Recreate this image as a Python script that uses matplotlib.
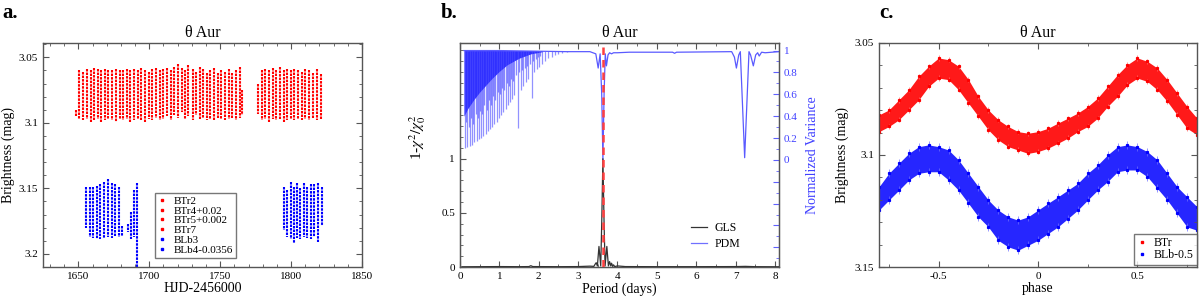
import numpy as np
import matplotlib
matplotlib.use('Agg')
import matplotlib.pyplot as plt
from matplotlib.ticker import MultipleLocator, FixedLocator, FuncFormatter
from matplotlib.lines import Line2D

plt.rcParams['font.family'] = ['Liberation Serif', 'DejaVu Serif']
plt.rcParams['mathtext.fontset'] = 'stix'
plt.rcParams['axes.unicode_minus'] = False

# ---- panel a: light curves (nightly stripes, HJD-2456000 vs mag range) ----
red_t = [1648.6, 1650.7, 1653.3, 1656.2, 1658.6, 1660.9, 1663.8, 1666.2, 1668.8, 1671.2,
         1674.0, 1676.4, 1679.0, 1681.7, 1684.3, 1686.7, 1689.5, 1691.9, 1694.5, 1697.1,
         1699.5, 1702.1, 1705.0, 1707.4, 1709.8, 1712.4, 1715.0, 1717.6, 1720.0, 1722.9,
         1725.2, 1727.6, 1730.5, 1732.9, 1735.5, 1737.9, 1740.7, 1743.1, 1745.7, 1748.3,
         1750.9, 1753.3, 1756.2, 1758.6, 1760.9, 1763.8, 1765.7,
         1776.9, 1779.3, 1781.9, 1784.3, 1787.1, 1789.5, 1791.9, 1794.8, 1797.1, 1799.8,
         1802.4, 1804.8, 1807.6, 1810.0, 1812.9, 1815.2, 1818.1, 1820.9]
red_top = [3.090, 3.060, 3.061, 3.059, 3.060, 3.058, 3.059, 3.060, 3.059, 3.060,
           3.060, 3.059, 3.060, 3.060, 3.059, 3.060, 3.059, 3.060, 3.058, 3.060,
           3.061, 3.059, 3.058, 3.060, 3.059, 3.058, 3.060, 3.057, 3.055, 3.058,
           3.060, 3.056, 3.059, 3.061, 3.057, 3.059, 3.062, 3.060, 3.058, 3.062,
           3.060, 3.061, 3.059, 3.062, 3.060, 3.057, 3.075,
           3.070, 3.060, 3.059, 3.060, 3.058, 3.060, 3.057, 3.060, 3.059, 3.060,
           3.059, 3.060, 3.061, 3.059, 3.060, 3.062, 3.059, 3.063]
red_bot = [3.095, 3.097, 3.098, 3.097, 3.099, 3.098, 3.097, 3.099, 3.098, 3.097,
           3.098, 3.099, 3.097, 3.098, 3.097, 3.099, 3.098, 3.097, 3.098, 3.099,
           3.097, 3.098, 3.096, 3.098, 3.097, 3.095, 3.098, 3.094, 3.096, 3.092,
           3.097, 3.095, 3.098, 3.094, 3.097, 3.096, 3.098, 3.097, 3.098, 3.096,
           3.097, 3.098, 3.097, 3.096, 3.098, 3.096, 3.094,
           3.093, 3.098, 3.097, 3.099, 3.097, 3.098, 3.097, 3.099, 3.098, 3.097,
           3.098, 3.097, 3.098, 3.097, 3.098, 3.097, 3.098, 3.097]

blue_t = [1655.7, 1658.1, 1660.5, 1662.9, 1665.2, 1668.1, 1671.0, 1673.4, 1675.9, 1678.8,
          1680.7, 1684.8, 1687.1, 1689.1, 1691.4,
          1794.8, 1797.1, 1799.8, 1802.1, 1804.5, 1806.6, 1809.1, 1811.6, 1814.1, 1816.4,
          1819.3, 1821.6]
blue_top = [3.149, 3.149, 3.149, 3.148, 3.147, 3.145, 3.143, 3.146, 3.147, 3.149,
            3.179, 3.177, 3.168, 3.151, 3.146,
            3.149, 3.151, 3.145, 3.149, 3.146, 3.150, 3.146, 3.149, 3.147, 3.147,
            3.146, 3.149]
blue_bot = [3.180, 3.187, 3.188, 3.189, 3.189, 3.188, 3.187, 3.188, 3.186, 3.187,
            3.186, 3.183, 3.189, 3.187, 3.210,
            3.182, 3.187, 3.189, 3.192, 3.188, 3.189, 3.187, 3.188, 3.189, 3.187,
            3.191, 3.179]

legend_a = ['BTr2', 'BTr4+0.02', 'BTr5+0.002', 'BTr7', 'BLb3', 'BLb4-0.0356']
legend_a_colors = ['red', 'red', 'red', 'red', 'blue', 'blue']

# ---- panel b: periodograms ----
gls_p = [0.05, 0.5, 1.0, 1.5, 1.75, 1.8, 1.85, 2.5, 3.0, 3.3, 3.4, 3.44, 3.46, 3.49,
         3.53, 3.575, 3.6, 3.63, 3.66, 3.685, 3.73, 3.77, 3.8, 3.83, 3.85, 3.88, 3.9,
         3.93, 4.0, 4.2, 5.0, 6.0, 7.0, 7.25, 7.5, 8.1]
gls_v = [0.002, 0.003, 0.004, 0.003, 0.004, 0.012, 0.004, 0.003, 0.004, 0.008, 0.006,
         0.03, 0.04, 0.01, 0.19, 0.01, 0.4, 1.0, 0.4, 0.01, 0.19, 0.01, 0.05, 0.01,
         0.035, 0.005, 0.02, 0.004, 0.01, 0.004, 0.003, 0.003, 0.004, 0.006, 0.003, 0.002]

pdm_p = [0.1, 0.5, 1.0, 2.7, 3.0, 3.3, 3.45, 3.51, 3.56, 3.6, 3.63, 3.66, 3.69, 3.72,
         3.76, 3.8, 3.85, 3.9, 4.0, 4.3, 5.4, 5.45, 5.5, 6.9, 6.97, 7.02, 7.08, 7.12,
         7.23, 7.34, 7.38, 7.45, 7.51, 7.56, 7.6, 7.66, 7.75, 8.1]
pdm_v = [1.0, 1.0, 1.0, 0.99, 0.99, 0.99, 0.97, 0.84, 0.97, 0.6, 0.0, 0.6, 0.97, 0.86,
         0.96, 0.98, 0.97, 0.98, 0.98, 0.985, 0.985, 0.975, 0.985, 0.99, 0.94, 0.84,
         0.96, 0.99, 0.02, 0.99, 0.96, 0.86, 0.96, 0.98, 0.95, 0.985, 0.98, 0.99]

# alias dips at short periods
comb_p = [0.127, 0.186, 0.254, 0.313, 0.364, 0.423, 0.482, 0.533, 0.592, 0.651,
          0.702, 0.761, 0.821, 0.871, 0.931, 0.990, 1.041, 1.100, 1.159, 1.210,
          1.269, 1.328, 1.379, 1.464, 1.548, 1.607, 1.667, 1.717, 1.819, 1.887,
          1.946, 2.005, 2.073, 2.157, 2.242, 2.327, 2.411, 2.496, 2.597, 2.707]
comb_v = [0.11, 0.12, 0.13, 0.14, 0.16, 0.17, 0.19, 0.20, 0.22, 0.24,
          0.26, 0.28, 0.30, 0.33, 0.35, 0.38, 0.41, 0.44, 0.47, 0.50,
          0.53, 0.56, 0.59, 0.29, 0.64, 0.68, 0.71, 0.74, 0.57, 0.80,
          0.83, 0.85, 0.88, 0.90, 0.93, 0.94, 0.96, 0.97, 0.98, 0.985]
comb2_p = [0.155, 0.22, 0.285, 0.34, 0.395, 0.455, 0.51, 0.565, 0.62, 0.68,
           0.73, 0.79, 0.85, 0.9, 0.96, 1.015, 1.07, 1.13, 1.185, 1.24,
           1.30, 1.355, 1.42, 1.51, 1.58, 1.64, 1.69, 1.77, 1.86, 1.92, 1.98, 2.04]
comb2_v = [0.35, 0.30, 0.38, 0.33, 0.42, 0.38, 0.45, 0.42, 0.50, 0.46,
           0.55, 0.50, 0.58, 0.55, 0.62, 0.60, 0.66, 0.64, 0.70, 0.68,
           0.74, 0.72, 0.78, 0.80, 0.82, 0.84, 0.86, 0.88, 0.90, 0.92, 0.94, 0.95]
dense_p = [0.1, 0.2, 0.35, 0.5, 0.65, 0.8, 1.0, 1.2, 1.5, 1.8, 2.1]
dense_v = [0.40, 0.47, 0.55, 0.62, 0.68, 0.74, 0.81, 0.87, 0.93, 0.97, 0.99]
best_period = 3.63

# ---- panel c: phased light curve (upper/lower edges of the point cloud) ----
phase = [-0.8, -0.75, -0.7, -0.65, -0.6, -0.55, -0.5, -0.45, -0.4, -0.35, -0.3,
         -0.25, -0.2, -0.15, -0.1, -0.05, 0.0, 0.05, 0.1, 0.15, 0.2, 0.25, 0.3,
         0.35, 0.4, 0.45, 0.5, 0.55, 0.6, 0.65, 0.7, 0.75, 0.8]
btr_hi = [3.0821, 3.0799, 3.0754, 3.0709, 3.0649, 3.0604, 3.0567, 3.0575, 3.0604,
          3.0664, 3.0739, 3.0799, 3.0843, 3.0873, 3.0896, 3.0903, 3.0896, 3.0881,
          3.0858, 3.0836, 3.0813, 3.0784, 3.0746, 3.0694, 3.0642, 3.0597, 3.0567,
          3.0582, 3.0612, 3.0664, 3.0724, 3.0784, 3.0836]
btr_lo = [3.0896, 3.0873, 3.0843, 3.0799, 3.0754, 3.0694, 3.0657, 3.0664, 3.0709,
          3.0769, 3.0828, 3.0888, 3.0933, 3.0963, 3.0978, 3.0993, 3.0985, 3.0970,
          3.0948, 3.0925, 3.0896, 3.0873, 3.0836, 3.0784, 3.0739, 3.0687, 3.0657,
          3.0672, 3.0709, 3.0761, 3.0821, 3.0881, 3.0910]
blb_hi = [3.1142, 3.1082, 3.1037, 3.0993, 3.0963, 3.0955, 3.0963, 3.0978, 3.1022,
          3.1082, 3.1142, 3.1201, 3.1246, 3.1276, 3.1291, 3.1276, 3.1246, 3.1216,
          3.1187, 3.1157, 3.1127, 3.1082, 3.1045, 3.1000, 3.0963, 3.0955, 3.0963,
          3.0985, 3.1022, 3.1082, 3.1142, 3.1187, 3.1231]
blb_lo = [3.1246, 3.1201, 3.1157, 3.1112, 3.1082, 3.1075, 3.1075, 3.1112, 3.1157,
          3.1216, 3.1276, 3.1321, 3.1381, 3.1410, 3.1425, 3.1403, 3.1381, 3.1351,
          3.1321, 3.1284, 3.1246, 3.1201, 3.1157, 3.1119, 3.1075, 3.1067, 3.1067,
          3.1097, 3.1149, 3.1201, 3.1261, 3.1321, 3.1336]

SPINE = '#555555'
TICK_FS = 8
LABEL_FS = 10


def fmt_g(v, pos):
    v = round(v, 4)
    if abs(v) < 1e-9:
        v = 0.0
    return '%g' % v


def fmt_right(v, pos):
    if v < -0.01:
        return ''
    return fmt_g(v, pos)


def style_axes(ax, right=True):
    ax.tick_params(which='both', direction='in', top=True, right=right,
                   labelsize=TICK_FS, color=SPINE)
    ax.tick_params(which='major', length=4, width=0.8)
    ax.tick_params(which='minor', length=2.2, width=0.6)
    for s in ax.spines.values():
        s.set_color(SPINE)
        s.set_linewidth(1)


fig = plt.figure(figsize=(12, 2.98), dpi=100)
bottom, height = 0.104, 0.752
ax_a = fig.add_axes([0.0358, bottom, 0.2658, height])
ax_b = fig.add_axes([0.3833, bottom, 0.2658, height])
ax_c = fig.add_axes([0.7325, bottom, 0.265, height])

# panel a
ax_a.vlines(red_t, red_top, red_bot, color='red', lw=1.5, linestyles=(0, (1.2, 0.5)))
ax_a.vlines(blue_t, blue_top, blue_bot, color='blue', lw=1.5, linestyles=(0, (1.2, 0.5)))
ax_a.set_xlim(1625, 1850)
ax_a.set_ylim(3.21, 3.039)
ax_a.xaxis.set_major_locator(MultipleLocator(50))
ax_a.xaxis.set_minor_locator(MultipleLocator(10))
ax_a.yaxis.set_major_locator(MultipleLocator(0.05))
ax_a.yaxis.set_minor_locator(MultipleLocator(0.01))
ax_a.yaxis.set_major_formatter(FuncFormatter(fmt_g))
style_axes(ax_a)
ax_a.set_xlabel('HJD-2456000', fontsize=LABEL_FS, labelpad=1)
ax_a.set_ylabel('Brightness (mag)', fontsize=LABEL_FS, labelpad=3)
ax_a.set_title('θ Aur', fontsize=11.5, pad=4)
handles = [Line2D([], [], ls='none', marker='s', ms=1.8, color=c) for c in legend_a_colors]
ax_a.legend(handles, legend_a, loc='lower left', bbox_to_anchor=(0.35, 0.04),
            fontsize=8, frameon=True, fancybox=False, edgecolor='#555555',
            handlelength=0.8, handletextpad=0.6, labelspacing=0.0, borderpad=0.3,
            borderaxespad=0)

# panel b
ax_b2 = ax_b.twinx()
ax_b2.fill_between(dense_p, dense_v, 1.0, color='#1010ff', alpha=0.85, lw=0)
ax_b2.vlines(comb2_p, comb2_v, 1.0, color='#2a2aff', lw=0.9, alpha=0.55)
ax_b2.vlines(comb_p, comb_v, 1.0, color='#4a4aff', lw=0.9, alpha=0.6)
ax_b2.plot(pdm_p, pdm_v, color='#5a5aff', lw=0.9)
ax_b.plot(gls_p, gls_v, color='#333333', lw=0.9, zorder=3)
ax_b.axvline(best_period, color='#ff4040', lw=1.8, ls=(0, (3, 2)), zorder=4)
ax_b.set_zorder(ax_b2.get_zorder() + 1)
ax_b.patch.set_visible(False)

ax_b.set_xlim(0, 8.1)
ax_b.set_ylim(0, 2.07)
ax_b.xaxis.set_major_locator(MultipleLocator(1))
ax_b.xaxis.set_minor_locator(MultipleLocator(0.5))
ax_b.yaxis.set_major_locator(FixedLocator([0, 0.5, 1]))
ax_b.yaxis.set_minor_locator(FixedLocator(np.arange(0.1, 2.05, 0.1)))
ax_b.yaxis.set_major_formatter(FuncFormatter(fmt_g))
style_axes(ax_b, right=False)
ax_b.set_xlabel('Period (days)', fontsize=LABEL_FS, labelpad=1)
ax_b.set_ylabel(r'1-$\chi^2/\chi_0^2$', fontsize=LABEL_FS + 1, labelpad=2)
ax_b.yaxis.set_label_coords(-0.1, 0.58)
ax_b.set_title('θ Aur', fontsize=11.5, pad=4)

ax_b2.set_ylim(-0.98, 1.07)
ax_b2.yaxis.set_major_locator(FixedLocator(np.arange(-0.8, 1.01, 0.2)))
ax_b2.yaxis.set_minor_locator(MultipleLocator(0.1))
ax_b2.yaxis.set_major_formatter(FuncFormatter(fmt_right))
ax_b2.tick_params(which='both', direction='in', labelsize=TICK_FS, color='#6060ff',
                  labelcolor='#4040ff')
ax_b2.tick_params(which='major', length=4, width=0.8)
ax_b2.tick_params(which='minor', length=2.2, width=0.6)
for s in ax_b2.spines.values():
    s.set_color(SPINE)
ax_b2.set_ylabel('Normalized Variance', fontsize=LABEL_FS, color='#4040ff', labelpad=6)

gls_h = Line2D([], [], color='#333333', lw=0.9)
pdm_h = Line2D([], [], color='#7070ff', lw=0.9)
ax_b.legend([gls_h, pdm_h], ['GLS', 'PDM'], loc='lower left', bbox_to_anchor=(0.69, 0.03),
            fontsize=8.5, frameon=False, handlelength=1.4, handletextpad=0.6, labelspacing=0.3)

# panel c
ax_c.fill_between(phase, btr_hi, btr_lo, color='red', alpha=0.9, lw=0)
ax_c.errorbar(phase, btr_hi, yerr=0.0012, fmt='s', ms=1.3, color='red', ecolor='#ff7070', elinewidth=0.5)
ax_c.errorbar(phase, btr_lo, yerr=0.0012, fmt='s', ms=1.3, color='red', ecolor='#ff7070', elinewidth=0.5)
ax_c.fill_between(phase, blb_hi, blb_lo, color='blue', alpha=0.85, lw=0)
ax_c.errorbar(phase, blb_hi, yerr=0.0018, fmt='s', ms=1.3, color='blue', ecolor='#7070ff', elinewidth=0.5)
ax_c.errorbar(phase, blb_lo, yerr=0.0018, fmt='s', ms=1.3, color='blue', ecolor='#7070ff', elinewidth=0.5)
ax_c.set_xlim(-0.8, 0.8)
ax_c.set_ylim(3.15, 3.05)
ax_c.xaxis.set_major_locator(MultipleLocator(0.5))
ax_c.xaxis.set_minor_locator(MultipleLocator(0.25))
ax_c.yaxis.set_major_locator(MultipleLocator(0.05))
ax_c.yaxis.set_minor_locator(MultipleLocator(0.01))
ax_c.xaxis.set_major_formatter(FuncFormatter(fmt_g))
ax_c.yaxis.set_major_formatter(FuncFormatter(fmt_g))
style_axes(ax_c)
ax_c.set_xlabel('phase', fontsize=LABEL_FS, labelpad=1)
ax_c.set_ylabel('Brightness (mag)', fontsize=LABEL_FS, labelpad=4)
ax_c.set_title('θ Aur', fontsize=11.5, pad=4)
hc = [Line2D([], [], ls='none', marker='s', ms=1.8, color=c) for c in ['red', 'blue']]
ax_c.legend(hc, ['BTr', 'BLb-0.5'], loc='lower right', bbox_to_anchor=(1.0, 0.01),
            fontsize=8.5, frameon=True, fancybox=False, edgecolor='#555555',
            handlelength=0.8, handletextpad=0.6, labelspacing=0.0, borderpad=0.3,
            borderaxespad=0)

for x, lab in [(0.002, 'a.'), (0.367, 'b.'), (0.733, 'c.')]:
    fig.text(x, 0.94, lab, fontsize=15, fontweight='bold')

fig.savefig('out.png', dpi=100)
